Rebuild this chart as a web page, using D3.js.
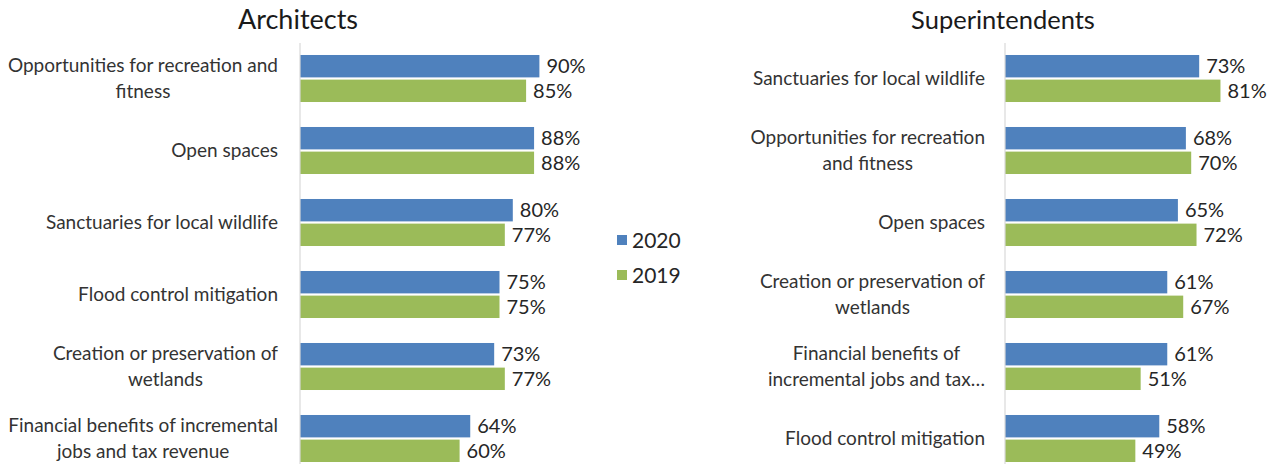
<!DOCTYPE html>
<html>
<head>
<meta charset="utf-8">
<script src="https://cdn.jsdelivr.net/npm/d3@7"></script>
<style>
  html, body { margin: 0; padding: 0; background: #fff; }
  svg { display: block; }
  text { font-family: Lato, "Open Sans", sans-serif; }
</style>
</head>
<body>
<svg id="chart" width="1275" height="464"></svg>
<script>
// ---------- data ----------
const series = ["2020", "2019"];
const seriesColors = ["#4f81bd", "#9bbb59"];

const archTitle = "Architects";
const archCategories = [
  "Opportunities for recreation and\nfitness",
  "Open spaces",
  "Sanctuaries for local wildlife",
  "Flood control mitigation",
  "Creation or preservation of\nwetlands",
  "Financial benefits of incremental\njobs and tax revenue"
];
const arch2020 = [90, 88, 80, 75, 73, 64];
const arch2019 = [85, 88, 77, 75, 77, 60];

const supTitle = "Superintendents";
const supCategories = [
  "Sanctuaries for local wildlife",
  "Opportunities for recreation\nand fitness",
  "Open spaces",
  "Creation or preservation of\nwetlands",
  "Financial benefits of\nincremental jobs and tax…",
  "Flood control mitigation"
];
const sup2020 = [73, 68, 65, 61, 61, 58];
const sup2019 = [81, 70, 72, 67, 51, 49];

// ---------- drawing ----------
const svg = d3.select("#chart");

function panel(opts) {
  const g = svg.append("g");
  const x = d3.scaleLinear().domain([0, 100]).range([opts.axisX, opts.axisX + 266]);
  const y = d3.scaleBand().domain(opts.categories).range([42.5, 474.5])
    .paddingInner(0.347).paddingOuter(0.1735);
  const ys = d3.scaleBand().domain(series).range([0, y.bandwidth()]).paddingInner(0.09);

  // title
  g.append("text")
    .attr("x", opts.titleX).attr("y", 29)
    .attr("text-anchor", "middle")
    .attr("font-size", opts.titleSize)
    .attr("fill", "#1a1a1a")
    .text(opts.title);

  const rows = opts.categories.map((c, i) => ({ cat: c, vals: [opts.v2020[i], opts.v2019[i]] }));

  const rowG = g.selectAll("g.row").data(rows).join("g")
    .attr("class", "row")
    .attr("transform", d => `translate(0,${y(d.cat)})`);

  rowG.selectAll("rect").data(d => d.vals.map((v, k) => ({ s: series[k], v, k }))).join("rect")
    .attr("x", x(0))
    .attr("y", d => ys(d.s))
    .attr("width", d => x(d.v) - x(0))
    .attr("height", ys.bandwidth())
    .attr("fill", d => seriesColors[d.k]);

  rowG.selectAll("text.val").data(d => d.vals.map((v, k) => ({ s: series[k], v, k }))).join("text")
    .attr("class", "val")
    .attr("x", d => x(d.v) + 7)
    .attr("y", d => ys(d.s) + ys.bandwidth() / 2)
    .attr("dy", "0.36em")
    .attr("font-size", 20)
    .attr("fill", "#262626")
    .text(d => d.v + "%");

  // category labels (wrapped lines centred within right-aligned block)
  const labelRight = opts.axisX - opts.labelGap;
  const lineH = 25.5;
  rowG.each(function(d) {
    const lines = d.cat.split("\n");
    const t = d3.select(this).append("text")
      .attr("class", "cat")
      .attr("font-size", 19)
      .attr("fill", "#333")
      .attr("text-anchor", "middle");
    const n = lines.length;
    const cy = y.bandwidth() / 2;
    lines.forEach((ln, i) => {
      t.append("tspan")
        .attr("y", cy + (i - (n - 1) / 2) * lineH)
        .attr("dy", "0.35em")
        .text(ln);
    });
    let maxW = 0;
    t.selectAll("tspan").each(function() { maxW = Math.max(maxW, this.getComputedTextLength()); });
    t.selectAll("tspan").attr("x", labelRight - maxW / 2);
  });

  // vertical axis line
  g.append("line")
    .attr("x1", x(0)).attr("x2", x(0))
    .attr("y1", 43).attr("y2", 464)
    .attr("stroke", "#d9d9d9").attr("stroke-width", 1.2);
}

panel({ title: archTitle, titleX: 298, titleSize: 27, axisX: 300, labelGap: 22, categories: archCategories, v2020: arch2020, v2019: arch2019 });
panel({ title: supTitle, titleX: 1003, titleSize: 25.5, axisX: 1005, labelGap: 20, categories: supCategories, v2020: sup2020, v2019: sup2019 });

// legend
const legend = svg.append("g").attr("transform", "translate(617,233)");
series.forEach((s, i) => {
  const lg = legend.append("g").attr("transform", `translate(0,${i * 35})`);
  lg.append("rect").attr("x", 0).attr("y", 2).attr("width", 10).attr("height", 10).attr("fill", seriesColors[i]);
  lg.append("text").attr("x", 15).attr("y", 7.5).attr("dy", "0.36em")
    .attr("font-size", 21).attr("fill", "#262626").text(s);
});
</script>
</body>
</html>
